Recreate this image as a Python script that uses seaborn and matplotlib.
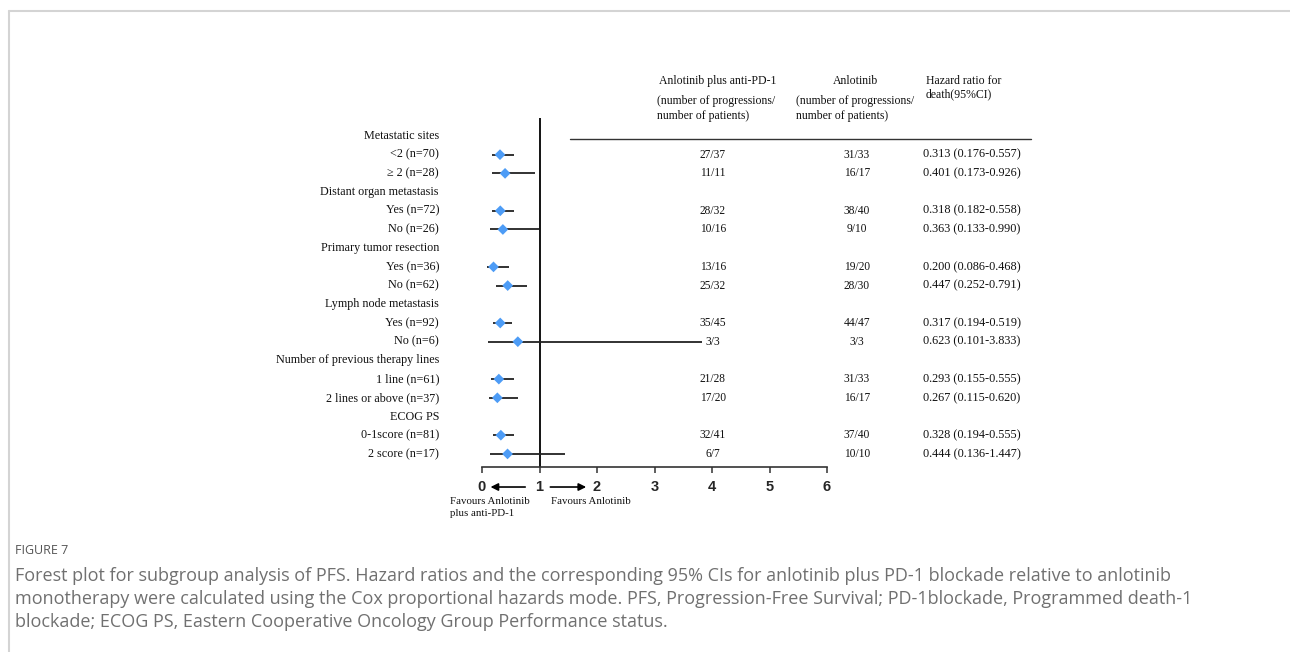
import numpy as np
import pandas as pd
import matplotlib
matplotlib.use("Agg")
import matplotlib.pyplot as plt
import matplotlib.transforms as mtransforms
from matplotlib.lines import Line2D
import seaborn as sns

# ---------------- data ----------------
groups = ["Metastatic sites", "Distant organ metastasis", "Primary tumor resection",
          "Lymph node metastasis", "Number of previous therapy lines", "ECOG PS"]
subgroups = [["<2 (n=70)", "\u2265 2 (n=28)"],
             ["Yes (n=72)", "No (n=26)"],
             ["Yes (n=36)", "No (n=62)"],
             ["Yes (n=92)", "No (n=6)"],
             ["1 line (n=61)", "2 lines or above (n=37)"],
             ["0-1score (n=81)", "2 score (n=17)"]]
combo_events = ["27/37", "11/11", "28/32", "10/16", "13/16", "25/32",
                "35/45", "3/3", "21/28", "17/20", "32/41", "6/7"]
mono_events = ["31/33", "16/17", "38/40", "9/10", "19/20", "28/30",
               "44/47", "3/3", "31/33", "16/17", "37/40", "10/10"]
hr = [0.313, 0.401, 0.318, 0.363, 0.200, 0.447, 0.317, 0.623, 0.293, 0.267, 0.328, 0.444]
ci_low = [0.176, 0.173, 0.182, 0.133, 0.086, 0.252, 0.194, 0.101, 0.155, 0.115, 0.194, 0.136]
ci_high = [0.557, 0.926, 0.558, 0.990, 0.468, 0.791, 0.519, 3.833, 0.555, 0.620, 0.555, 1.447]
xticks = [0, 1, 2, 3, 4, 5, 6]

caption_title = "FIGURE 7"
caption_lines = [
    "Forest plot for subgroup analysis of PFS. Hazard ratios and the corresponding 95% CIs for anlotinib plus PD-1 blockade relative to anlotinib",
    "monotherapy were calculated using the Cox proportional hazards mode. PFS, Progression-Free Survival; PD-1blockade, Programmed death-1",
    "blockade; ECOG PS, Eastern Cooperative Oncology Group Performance status.",
]

# ---------------- layout of rows ----------------
labels, is_header, item_rows = [], [], []
r = 0
for g, subs in zip(groups, subgroups):
    labels.append(g); is_header.append(True); r += 1
    for s in subs:
        labels.append(s); is_header.append(False); item_rows.append(r); r += 1

df = pd.DataFrame({"row": item_rows, "hr": hr, "lo": ci_low, "hi": ci_high,
                   "combo": combo_events, "mono": mono_events})
df["hrtxt"] = [f"{h:.3f} ({l:.3f}-{u:.3f})" for h, l, u in zip(hr, ci_low, ci_high)]

# ---------------- figure ----------------
sns.set_style("white")
plt.rcParams["font.family"] = ["Liberation Serif", "DejaVu Serif"]

W, H = 1290, 652
fig = plt.figure(figsize=(W / 100, H / 100), dpi=100)
fx = lambda px: px / W
fy = lambda py: 1 - py / H

ax = fig.add_axes([fx(482), fy(467), fx(827) - fx(482), fy(118) - fy(467)])
ax.set_xlim(0, 6)
ax.set_ylim(17.7, -0.96)

# CI lines
ax.hlines(df["row"], df["lo"], df["hi"], color="#222222", lw=1.3, zorder=2)
# points
sns.scatterplot(data=df, x="hr", y="row", marker="D", s=30, color="#4d9cf6",
                edgecolor="none", zorder=3, ax=ax, legend=False)
# line of no effect
ax.axvline(1, color="black", lw=1.3, zorder=1)

for sp in ["top", "right", "left"]:
    ax.spines[sp].set_visible(False)
ax.spines["bottom"].set_color("#333333")
ax.spines["bottom"].set_linewidth(1.2)
ax.set_xticks(xticks)
ax.set_xticklabels([str(t) for t in xticks], fontfamily="Liberation Sans",
                   fontweight="bold", fontsize=10.5)
ax.tick_params(axis="x", direction="out", length=4.5, width=1.1, pad=5,
               color="#333333", bottom=True)
ax.set_yticks([])
ax.set_xlabel("")
ax.set_ylabel("")

# row labels
trans = mtransforms.blended_transform_factory(fig.transFigure, ax.transData)
for i, (lab, hdr) in enumerate(zip(labels, is_header)):
    ax.text(fx(439), i, lab, transform=trans, ha="right", va="center",
            fontsize=8.7, color="#111111")

# table columns
for _, rw in df.iterrows():
    ax.text(fx(713), rw["row"], rw["combo"], transform=trans, ha="center", va="center",
            fontsize=8.3, color="#111111")
    ax.text(fx(857), rw["row"], rw["mono"], transform=trans, ha="center", va="center",
            fontsize=8.3, color="#111111")
    ax.text(fx(923), rw["row"], rw["hrtxt"], transform=trans, ha="left", va="center",
            fontsize=8.8, color="#111111")

# column headers
hdr_kw = dict(fontsize=8.5, color="#111111", va="center")
fig.text(fx(659), fy(81), "Anlotinib plus anti-PD-1", ha="left", **hdr_kw)
fig.text(fx(657), fy(101), "(number of progressions/", ha="left", **hdr_kw)
fig.text(fx(657), fy(116), "number of patients)", ha="left", **hdr_kw)
fig.text(fx(856), fy(81), "Anlotinib", ha="center", **hdr_kw)
fig.text(fx(796), fy(101), "(number of progressions/", ha="left", **hdr_kw)
fig.text(fx(796), fy(116), "number of patients)", ha="left", **hdr_kw)
fig.text(fx(926), fy(81), "Hazard ratio for", ha="left", **hdr_kw)
fig.text(fx(926), fy(94), "death(95%CI)", ha="left", **hdr_kw)
fig.add_artist(Line2D([fx(570), fx(1031)], [fy(139), fy(139)], color="#333333", lw=1.0))

# arrows and favour labels
yarr = 18.77
ax.annotate("", xy=(0.10, yarr), xytext=(0.80, yarr), xycoords="data",
            arrowprops=dict(arrowstyle="-|>", color="black", lw=1.2, mutation_scale=11),
            annotation_clip=False)
ax.annotate("", xy=(1.86, yarr), xytext=(1.14, yarr), xycoords="data",
            arrowprops=dict(arrowstyle="-|>", color="black", lw=1.2, mutation_scale=11),
            annotation_clip=False)
fav_kw = dict(ha="left", va="center", fontsize=7.8, color="#111111")
fig.text(fx(450), fy(502), "Favours Anlotinib", **fav_kw)
fig.text(fx(450), fy(514), "plus anti-PD-1", **fav_kw)
fig.text(fx(551), fy(502), "Favours Anlotinib", **fav_kw)

# caption
fig.text(fx(15), fy(550), caption_title, ha="left", va="center", fontsize=9,
         color="#555555", family=["Open Sans", "DejaVu Sans"])
for k, line in enumerate(caption_lines):
    fig.text(fx(15), fy(576 + 23 * k), line, ha="left", va="center", fontsize=13,
             color="#707070", family=["Open Sans", "DejaVu Sans"])

# page frame
fig.add_artist(Line2D([fx(9), fx(1290)], [fy(11), fy(11)], color="#d4d4d4", lw=1.5))
fig.add_artist(Line2D([fx(9), fx(9)], [fy(11), fy(652)], color="#d4d4d4", lw=1.5))

fig.savefig("out.png", dpi=100)
